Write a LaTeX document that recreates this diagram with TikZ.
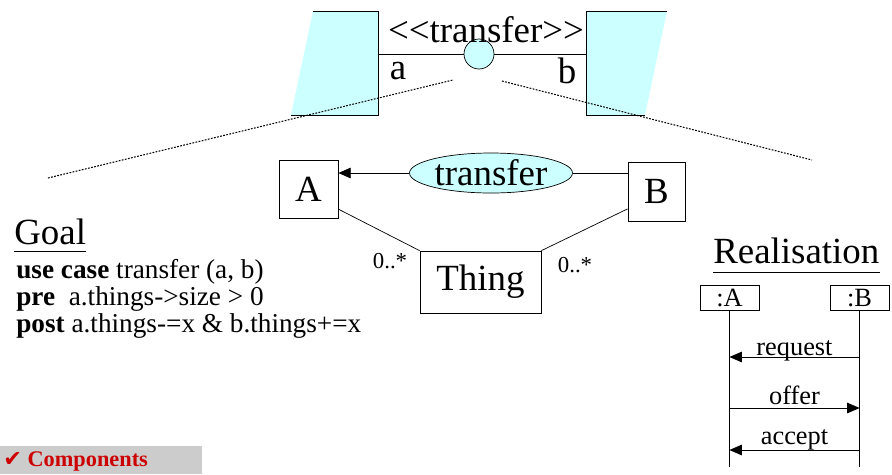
\documentclass[tikz,border=0pt]{standalone}
\usepackage{fontspec}
\setmainfont{Liberation Serif}[Ligatures=NoCommon]
\newfontfamily\checkfont{DejaVu Sans}
\usetikzlibrary{arrows.meta,shapes.geometric}

\definecolor{paleblue}{HTML}{CCFFFF}
\definecolor{darkred}{HTML}{CC0000}
\definecolor{bargrey}{HTML}{CCCCCC}

\begin{document}
\begin{tikzpicture}[x=0.02cm,y=-0.02cm]

\useasboundingbox (0,0) rectangle (892,474);

\tikzset{
  bigtxt/.style={font=\rmfamily\fontsize{21}{25}\selectfont},
  midtxt/.style={font=\rmfamily\fontsize{15.5}{18}\selectfont},
  smalltxt/.style={font=\rmfamily\fontsize{13}{15}\selectfont},
  cls/.style={draw,rectangle,inner sep=0pt,bigtxt},
  obj/.style={draw,rectangle,inner sep=0pt,minimum width=1.18cm,minimum height=0.5cm,font=\rmfamily\fontsize{15}{18}\selectfont},
  lbl/.style={anchor=base,inner sep=0pt,font=\rmfamily\fontsize{15}{18}\selectfont},
  msg/.style={-{Triangle[length=7pt,width=6pt]}},
  zoomline/.style={line width=0.6pt,dash pattern=on 1pt off 0.8pt}
}

% Two components and the transfer interface
\fill[paleblue] (313,11) -- (378,11) -- (378,115) -- (291,115) -- cycle;
\draw (313,11) -- (378,11) -- (378,115) -- (291,115);
\fill[paleblue] (586,11) -- (667,11) -- (645,115) -- (586,115) -- cycle;
\draw (667,11) -- (586,11) -- (586,115) -- (645,115);

\coordinate (pa) at (378,54);
\coordinate (pb) at (586,54);
\node[draw,circle,fill=paleblue,minimum size=0.6cm,inner sep=0pt] (iface) at (479,54) {};
\draw (pa) -- (iface) -- (pb);

\node[bigtxt] (stereo) at (486,30) {<\kern0pt<transfer>\kern0pt>};
\node[bigtxt] (porta) at (398,71) {a};
\node[bigtxt] (portb) at (567,71) {b};

% Zoom lines
\coordinate (zl1) at (48,178);
\coordinate (zl2) at (453,80);
\coordinate (zr1) at (502,81);
\coordinate (zr2) at (812,160);
\draw[zoomline] (zl1) -- (zl2);
\draw[zoomline] (zr1) -- (zr2);

% Class diagram
\node[cls,minimum width=1.18cm,minimum height=1.16cm] (A) at (308.5,189) {A};
\node[cls,minimum width=1.14cm,minimum height=1.18cm] (B) at (656.5,191.5) {B};
\node[draw,ellipse,fill=paleblue,minimum width=3.26cm,minimum height=0.8cm,inner sep=0pt,bigtxt] (tr) at (491,173) {transfer};
\node[cls,minimum width=2.42cm,minimum height=1.24cm] (thing) at (480.5,282) {Thing};

\draw[msg] (tr.west) -- (tr.west -| A.east);
\draw (tr.east) -- (tr.east -| B.west);
\draw (A.-34) -- (thing.north west);
\draw (B.211) -- (thing.north east);

\node[smalltxt] (multa) at (390,261) {0..*};
\node[smalltxt] (multb) at (575,265) {0..*};

% Goal
\node[bigtxt,anchor=base west,inner sep=0pt] (goal) at (14,244) {Goal};
\draw ([yshift=-0.14cm]goal.base west) -- ([yshift=-0.14cm]goal.base east);
\node[midtxt,anchor=base west,inner sep=0pt] (uc) at (16,278) {\textbf{use case} transfer (a, b)};
\node[midtxt,anchor=base west,inner sep=0pt] (pre) at (16,305) {\textbf{pre}\ \ a.things->size > 0};
\node[midtxt,anchor=base west,inner sep=0pt] (post) at (16,332) {\textbf{post} a.things-=x \& b.things+=x};

% Realisation
\node[bigtxt,anchor=base west,inner sep=0pt] (real) at (713,263) {Realisation};
\draw ([yshift=-0.18cm]real.base west) -- ([yshift=-0.18cm]real.base east);
\node[obj] (la) at (729.5,298) {:A};
\node[obj] (lb) at (859.5,298) {:B};
\path (la.south) ++(0,156) coordinate (laend);
\path (lb.south) ++(0,156) coordinate (lbend);
\draw (la) -- (laend);
\draw (lb) -- (lbend);

\coordinate (m1) at (0,357);
\coordinate (m2) at (0,408);
\coordinate (m3) at (0,450);
\draw[msg] (m1 -| lb) -- node[lbl,yshift=1pt] {request} (m1 -| la);
\draw[msg] (m2 -| la) -- node[lbl,yshift=2pt] {offer} (m2 -| lb);
\draw[msg] (m3 -| lb) -- node[lbl,yshift=3pt] {accept} (m3 -| la);

% Bottom bar
\fill[bargrey] (0,446) rectangle (202,474);
\node[anchor=west,inner sep=0pt,text=darkred,font=\rmfamily\fontsize{12.7}{15}\selectfont\bfseries] (comp) at (3,461) {{\checkfont\char"2714}\ Components};

\end{tikzpicture}
\end{document}
